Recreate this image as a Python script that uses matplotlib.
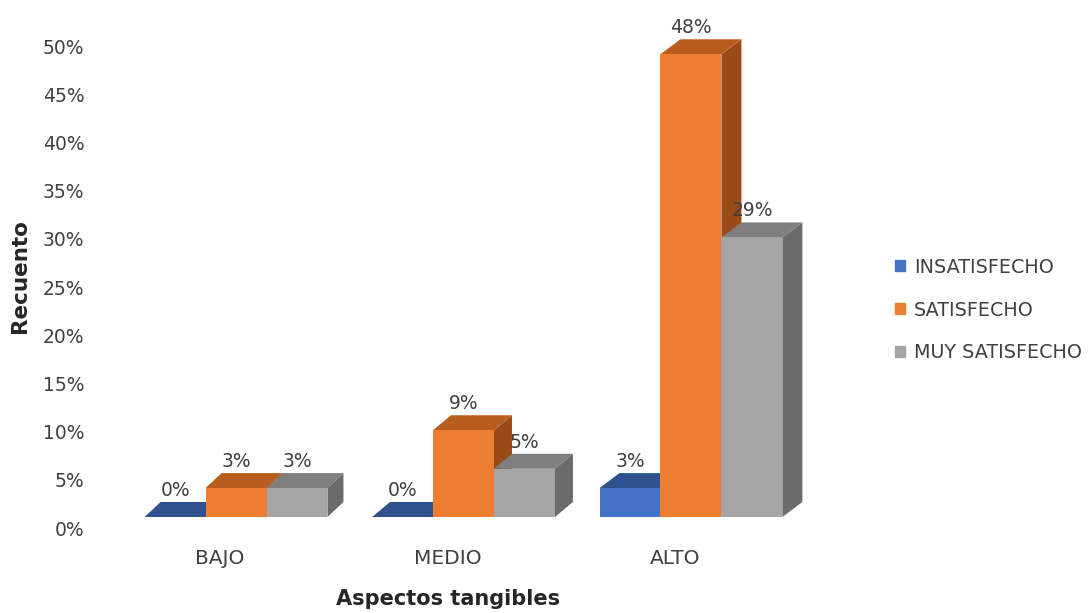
import matplotlib
matplotlib.use("Agg")
import matplotlib.pyplot as plt
import matplotlib.patches as mpatches
from matplotlib.patches import Polygon
from matplotlib.transforms import ScaledTranslation
import numpy as np

# --- data ---
categories = ["BAJO", "MEDIO", "ALTO"]
series_names = ["INSATISFECHO", "SATISFECHO", "MUY SATISFECHO"]
insatisfecho = [0, 0, 3]
satisfecho = [3, 9, 48]
muy_satisfecho = [3, 5, 29]
yticks = [0, 5, 10, 15, 20, 25, 30, 35, 40, 45, 50]

series = [insatisfecho, satisfecho, muy_satisfecho]
# front, top, side shades per series
front_colors = ["#4472C4", "#ED7D31", "#A5A5A5"]
top_colors = ["#2F528F", "#B95D1F", "#7F7F7F"]
side_colors = ["#2A4A82", "#9A4A17", "#6B6B6B"]

TEXT = "#404040"
plt.rcParams["font.family"] = ["DejaVu Sans"]

fig = plt.figure(figsize=(10.88, 6.13), dpi=100)
ax = fig.add_axes([0.0915, 0.1566, 0.669, 0.7863])
ax.set_xlim(-0.6, 2.6)
ax.set_ylim(0, 50)

bar_w = 0.268
depth_dy = 15  # pixels
x = np.arange(len(categories))

# pixels per data unit
p0 = ax.transData.transform((0, 0))
p1 = ax.transData.transform((1, 1))
px_x = p1[0] - p0[0]
px_y = p1[1] - p0[1]

for i, xc in enumerate(x):
    dx = (16 + 2 * i) / px_x
    dy = depth_dy / px_y
    for j, vals in enumerate(series):
        h = vals[i]
        x0 = xc + (j - 1) * bar_w - bar_w / 2
        x1 = x0 + bar_w
        z = 2 + i * 3 + j * 0.1
        # right side
        ax.add_patch(Polygon([(x1, 0), (x1 + dx, dy), (x1 + dx, h + dy), (x1, h)],
                             closed=True, facecolor=side_colors[j], edgecolor="none",
                             clip_on=False, zorder=z))
        # top
        ax.add_patch(Polygon([(x0, h), (x1, h), (x1 + dx, h + dy), (x0 + dx, h + dy)],
                             closed=True, facecolor=top_colors[j], edgecolor="none",
                             clip_on=False, zorder=z + 0.01))
        # front
        ax.bar(x0 + bar_w / 2, h, width=bar_w, color=front_colors[j],
               edgecolor="none", zorder=z + 0.02, clip_on=False)
        ax.annotate(f"{h:.0f}%", xy=(x0 + bar_w / 2, h), xytext=(0, depth_dy + 2),
                    textcoords="offset pixels", ha="center", va="bottom",
                    fontsize=13.5, color=TEXT, zorder=20, annotation_clip=False)

ax.set_xticks(x)
ax.set_xticklabels(categories, fontsize=14.5, color=TEXT)
ax.set_yticks(yticks)
ax.set_yticklabels([f"{t}%" for t in yticks], fontsize=13.5, color=TEXT)
ax.tick_params(axis="y", length=0, pad=11)
ax.tick_params(axis="x", length=0, pad=23)
for lbl in ax.get_xticklabels():
    lbl.set_transform(lbl.get_transform() + ScaledTranslation(-0.16, 0, fig.dpi_scale_trans))
for lbl in ax.get_yticklabels():
    lbl.set_transform(lbl.get_transform() + ScaledTranslation(0, -0.11, fig.dpi_scale_trans))
for s in ax.spines.values():
    s.set_visible(False)

fig.text(20 / 1088, (613 - 276) / 613, "Recuento", rotation=90, ha="center", va="center",
         fontsize=15.5, fontweight="bold", color="#262626")
fig.text(448 / 1088, (613 - 599) / 613, "Aspectos tangibles", ha="center", va="center",
         fontsize=15, fontweight="bold", color="#262626")

handles = [mpatches.Patch(color=c, label=n) for c, n in zip(front_colors, series_names)]
fig.legend(handles=handles, loc="center left", bbox_to_anchor=(895 / 1088, (613 - 310) / 613),
           frameon=False, fontsize=13.8, handlelength=0.5, handleheight=0.5,
           handletextpad=0.5, labelspacing=1.25, borderpad=0, borderaxespad=0,
           labelcolor=TEXT)

fig.savefig("out.png", dpi=100)
